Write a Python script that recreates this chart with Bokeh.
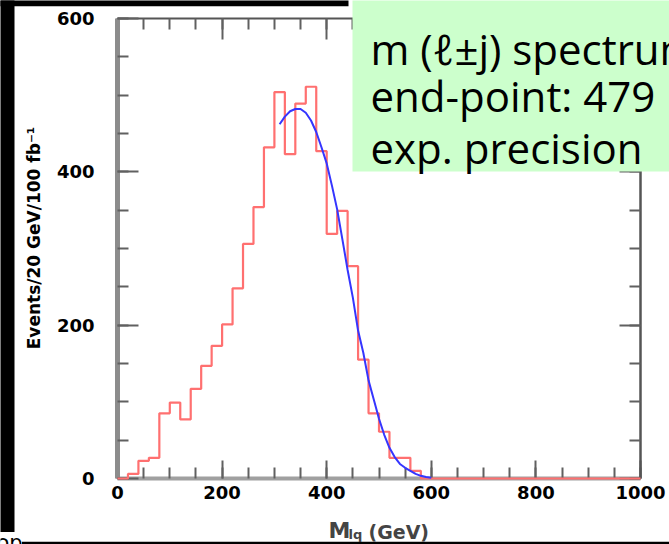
import numpy as np
from bokeh.plotting import figure
from bokeh.models import Range1d, LinearAxis, FixedTicker, Label, BoxAnnotation
from bokeh.embed import file_html
from bokeh.resources import INLINE

# ---------------- data ----------------
bin_edges = list(range(0, 1001, 20))          # GeV, 20 GeV bins
counts = [0, 6, 23, 27, 85, 99, 77, 117, 147, 173,
          201, 248, 306, 354, 432, 504, 423, 489, 511, 427,
          319, 349, 277, 155, 85, 61, 27, 27, 10, 0,
          0, 0, 0, 0, 0, 0, 0, 0, 0, 0,
          0, 0, 0, 0, 0, 0, 0, 0, 0, 0]
fit_x = [310, 320, 330, 340, 350, 360, 370, 380, 390, 400,
         410, 420, 430, 440, 450, 460, 470, 480, 490, 500,
         510, 520, 530, 540, 550, 560, 570, 580, 590, 600]
fit_y = [462, 472, 479, 482, 482, 477, 467, 452, 432, 411,
         382, 351, 312, 272, 236, 193, 164, 128, 103, 78,
         57, 40, 28, 19, 14, 10, 6, 3.5, 2, 1]
x_ticks = [0, 200, 400, 600, 800, 1000]
y_ticks = [0, 200, 400, 600]
x_minor = list(range(0, 1001, 50))
y_minor = list(range(0, 601, 50))
box_lines = ["m (\u2113\u00b1j) spectrum", "end-point: 479", "exp. precision"]
y_title = "Events/20 GeV/100 fb\u207b\u00b9"

# helpers: page-pixel position -> data coordinate (for annotation placement only)
def fx(px):
    return (px - 117) / 0.523

def fy(py):
    return (478 - py) / (460 / 600)

W, H = 669, 544
p = figure(width=W, height=H,
           x_range=Range1d(fx(0), fx(W)), y_range=Range1d(fy(H), fy(0)),
           output_backend="svg", toolbar_location=None,
           min_border=0, min_border_left=0, min_border_right=0,
           min_border_top=0, min_border_bottom=0)
p.xgrid.visible = False
p.ygrid.visible = False
p.outline_line_color = None
p.background_fill_color = "white"
p.border_fill_color = "white"

xt = FixedTicker(ticks=x_ticks, minor_ticks=x_minor)
yt = FixedTicker(ticks=y_ticks, minor_ticks=y_minor)

def style_axis(ax, color, width, labels, tick_len):
    ax.axis_line_color = color
    ax.axis_line_width = width
    ax.major_tick_line_color = "#606060"
    ax.minor_tick_line_color = "#606060"
    ax.major_tick_line_width = 2
    ax.minor_tick_line_width = 2
    ax.major_tick_in = tick_len
    ax.major_tick_out = 0
    ax.minor_tick_in = 11
    ax.minor_tick_out = 0
    if labels:
        ax.major_label_text_font = "DejaVu Sans"
        ax.major_label_text_font_style = "bold"
        ax.major_label_text_font_size = "18px"
        ax.major_label_text_color = "black"
    else:
        ax.major_label_text_color = None
        ax.major_label_standoff = 0

bx = p.xaxis[0]
bx.ticker = xt
bx.fixed_location = 0
bx.bounds = (0, 1000)
style_axis(bx, "#a0a0a0", 4, True, 18)
bx.major_label_standoff = 7

ly = p.yaxis[0]
ly.ticker = yt
ly.fixed_location = 0
ly.bounds = (0, 600)
style_axis(ly, "#8c8c8c", 5, True, 21)
ly.major_label_standoff = 23
ly.major_label_orientation = "horizontal"

tx = LinearAxis(ticker=xt, fixed_location=600, bounds=(0, 1000))
style_axis(tx, "#555555", 2, False, 21)
p.add_layout(tx, "above")
ry = LinearAxis(ticker=yt, fixed_location=1000, bounds=(0, 600))
style_axis(ry, "#555555", 2.5, False, 21)
p.add_layout(ry, "right")

# histogram and fit
hist_y = counts + [0]
p.step(x=bin_edges, y=hist_y, mode="after", line_color="#ff7070", line_width=2.2, level="overlay")
p.line(x=fit_x, y=fit_y, line_color="#3535ff", line_width=2, level="overlay")

# slide decorations (black frame pieces, footer fragment)
p.add_layout(BoxAnnotation(left=fx(-40), right=fx(14), bottom=fy(531.5), top=fy(-40),
                           fill_color="black", fill_alpha=1, line_color=None))
p.add_layout(BoxAnnotation(left=fx(-40), right=fx(348), bottom=fy(5.7), top=fy(-40),
                           fill_color="black", fill_alpha=1, line_color=None))
p.add_layout(Label(x=fx(-4), y=fy(542), text="op", text_font="DejaVu Sans",
                   text_font_size="21px", text_color="black",
                   text_align="left", text_baseline="alphabetic"))
p.add_layout(BoxAnnotation(left=fx(21.5), right=fx(720), bottom=fy(560), top=fy(541.3),
                           fill_color="black", fill_alpha=1, line_color=None))

# green text box
p.add_layout(BoxAnnotation(left=fx(352), right=fx(720), bottom=fy(171), top=fy(-40),
                           fill_color="#ccffcc", fill_alpha=1, line_color=None))
for txt, base in zip(box_lines, [48, 95, 147]):
    p.add_layout(Label(x=fx(370), y=fy(base), text=txt, text_font="Open Sans",
                       text_font_size="42px", text_color="black",
                       text_align="left", text_baseline="alphabetic"))

# axis titles
p.add_layout(Label(x=fx(33), y=fy(237.5), text=y_title, angle=np.pi / 2, text_font="DejaVu Sans",
                   text_font_style="bold", text_font_size="17px", text_align="center",
                   text_baseline="middle", text_color="black"))
p.add_layout(Label(x=fx(328), y=fy(530), text="M", text_font="DejaVu Sans", text_font_style="bold",
                   text_font_size="22px", text_align="left", text_baseline="alphabetic"))
p.add_layout(Label(x=fx(348), y=fy(534), text="lq", text_font="DejaVu Sans", text_font_style="bold",
                   text_font_size="13px", text_align="left", text_baseline="alphabetic"))
p.add_layout(Label(x=fx(368), y=fy(531), text="(GeV)", text_font="DejaVu Sans", text_font_style="bold",
                   text_font_size="19px", text_align="left", text_baseline="alphabetic"))

open("out.html", "w").write(file_html(p, INLINE))
